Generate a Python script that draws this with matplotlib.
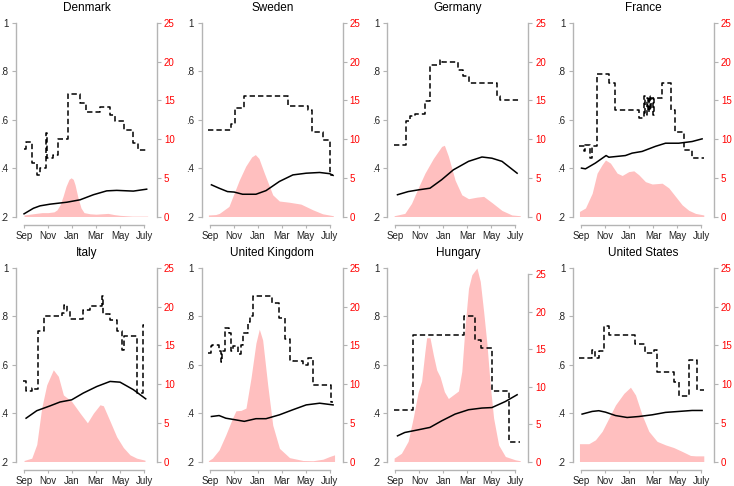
import matplotlib
matplotlib.use("Agg")
import matplotlib.pyplot as plt

# x positions are months since September 1 (Sep=0 ... July=10)
MONTH_TICKS = [0, 2, 4, 6, 8, 10]
MONTH_LABELS = ["Sep", "Nov", "Jan", "Mar", "May", "July"]
COUNTRIES = ["Denmark", "Sweden", "Germany", "France",
             "Italy", "United Kingdom", "Hungary", "United States"]

# dashed step series (left axis): breakpoints, value holds until next breakpoint
DK_STEP_X = [0, 0.17, 0.7, 1.05, 1.3, 1.8, 1.95, 2.45, 2.8, 3.7, 4.67, 5.2, 6.3, 7.2, 7.6, 8.3, 9.1, 9.5, 10.2]
DK_STEP_Y = [0.479, 0.51, 0.42, 0.372, 0.40, 0.545, 0.44, 0.455, 0.52, 0.706, 0.669, 0.63, 0.651, 0.62, 0.593, 0.559, 0.503, 0.473, 0.473]
SE_STEP_X = [-0.11, 1.76, 2.1, 2.88, 6.5, 8.2, 8.55, 9.4, 10.0, 10.28]
SE_STEP_Y = [0.556, 0.583, 0.648, 0.697, 0.658, 0.641, 0.548, 0.517, 0.372, 0.372]
DE_STEP_X = [-0.11, 0.92, 1.2, 1.62, 2.46, 2.88, 3.72, 3.85, 5.25, 5.6, 6.09, 8.46, 8.74, 10.42]
DE_STEP_Y = [0.497, 0.593, 0.614, 0.623, 0.676, 0.825, 0.848, 0.837, 0.807, 0.779, 0.754, 0.697, 0.68, 0.68]
FR_STEP_X = [-0.14, 0.22, 0.36, 0.78, 0.92, 1.33, 2.31, 2.8, 4.8, 5.22, 5.35, 5.45, 5.55, 5.65, 5.75, 5.85, 5.95, 6.05, 6.75, 7.53, 7.86, 8.56, 9.25, 10.22]
FR_STEP_Y = [0.49, 0.469, 0.497, 0.441, 0.49, 0.79, 0.752, 0.641, 0.607, 0.70, 0.62, 0.69, 0.63, 0.70, 0.64, 0.69, 0.62, 0.69, 0.752, 0.641, 0.548, 0.476, 0.441, 0.441]
IT_STEP_X = [-0.06, 0.17, 0.64, 0.78, 1.19, 1.67, 3.14, 3.36, 3.56, 3.83, 4.94, 5.5, 6.47, 6.61, 7.17, 7.72, 8.14, 8.33, 9.39, 9.44, 9.89, 10.0]
IT_STEP_Y = [0.531, 0.49, 0.503, 0.50, 0.741, 0.80, 0.814, 0.845, 0.821, 0.79, 0.825, 0.844, 0.883, 0.81, 0.786, 0.741, 0.662, 0.717, 0.697, 0.483, 0.766, 0.766]
UK_STEP_X = [-0.11, 0.08, 0.22, 0.78, 0.92, 1.06, 1.28, 1.62, 1.76, 1.9, 2.32, 2.6, 2.79, 3.16, 3.35, 3.63, 5.2, 5.81, 6.23, 6.65, 6.93, 7.77, 8.18, 8.6, 10.14, 10.28]
UK_STEP_Y = [0.648, 0.676, 0.68, 0.655, 0.611, 0.655, 0.752, 0.731, 0.655, 0.679, 0.644, 0.683, 0.731, 0.776, 0.8, 0.883, 0.855, 0.793, 0.706, 0.621, 0.614, 0.6, 0.628, 0.517, 0.448, 0.448]
HU_STEP_X = [-0.11, 1.48, 5.75, 6.65, 7.15, 8.04, 9.5, 10.42]
HU_STEP_Y = [0.411, 0.721, 0.80, 0.703, 0.669, 0.492, 0.28, 0.28]
US_STEP_X = [-0.14, 0.92, 1.19, 1.53, 1.89, 2.31, 4.53, 5.36, 6.06, 6.33, 7.72, 8.19, 8.97, 9.67, 10.22]
US_STEP_Y = [0.628, 0.662, 0.628, 0.655, 0.759, 0.724, 0.686, 0.648, 0.662, 0.572, 0.528, 0.469, 0.621, 0.497, 0.497]

# solid line series (left axis)
DK_LINE_X = [0, 0.78, 1.33, 2.17, 3.56, 4.67, 5.78, 6.89, 7.72, 9.11, 10.22]
DK_LINE_Y = [0.211, 0.234, 0.244, 0.251, 0.259, 0.269, 0.29, 0.306, 0.308, 0.305, 0.313]
SE_LINE_X = [0.14, 0.78, 1.48, 2.04, 2.74, 3.85, 4.69, 5.81, 6.93, 8.04, 9.16, 10.0, 10.28]
SE_LINE_Y = [0.331, 0.317, 0.303, 0.301, 0.292, 0.292, 0.307, 0.345, 0.372, 0.379, 0.382, 0.377, 0.37]
DE_LINE_X = [0.17, 1.06, 1.9, 2.88, 3.85, 4.83, 6.09, 7.21, 8.04, 8.88, 10.14]
DE_LINE_Y = [0.29, 0.303, 0.31, 0.317, 0.352, 0.393, 0.428, 0.446, 0.441, 0.428, 0.379]
FR_LINE_X = [0.03, 0.36, 1.19, 2.08, 2.31, 3.69, 4.25, 5.08, 6.19, 7.03, 8.14, 9.25, 10.08]
FR_LINE_Y = [0.40, 0.397, 0.421, 0.452, 0.445, 0.452, 0.462, 0.469, 0.49, 0.503, 0.503, 0.51, 0.521]
IT_LINE_X = [0.17, 1.06, 2.17, 3.0, 3.97, 4.94, 6.06, 7.17, 8.0, 9.11, 10.14]
IT_LINE_Y = [0.379, 0.41, 0.43, 0.446, 0.455, 0.483, 0.51, 0.531, 0.528, 0.497, 0.459]
UK_LINE_X = [0.14, 0.78, 1.34, 2.18, 2.88, 3.85, 4.69, 5.81, 6.93, 8.04, 9.16, 10.28]
UK_LINE_Y = [0.386, 0.39, 0.379, 0.372, 0.366, 0.377, 0.377, 0.393, 0.414, 0.434, 0.441, 0.434]
HU_LINE_X = [0.17, 0.78, 1.9, 2.88, 3.85, 4.97, 6.09, 7.21, 8.04, 9.16, 10.14]
HU_LINE_Y = [0.306, 0.32, 0.331, 0.341, 0.368, 0.396, 0.414, 0.421, 0.423, 0.448, 0.476]
US_LINE_X = [0.08, 0.92, 1.47, 2.03, 2.86, 3.83, 4.81, 5.92, 7.03, 8.14, 9.25, 10.08]
US_LINE_Y = [0.396, 0.407, 0.41, 0.404, 0.39, 0.382, 0.386, 0.393, 0.403, 0.407, 0.411, 0.411]

# shaded area series (right axis)
DK_AREA_X = [0, 0.5, 1, 1.5, 2, 2.5, 2.75, 3.0, 3.25, 3.5, 3.75, 3.92, 4.1, 4.25, 4.5, 4.75, 5.0, 5.5, 6, 6.5, 7, 7.5, 8, 9, 10.3]
DK_AREA_Y = [0.2, 0.3, 0.4, 0.5, 0.5, 0.6, 0.86, 1.5, 2.6, 3.9, 4.8, 5.0, 4.8, 4.1, 2.4, 1.1, 0.5, 0.35, 0.3, 0.35, 0.4, 0.25, 0.15, 0.05, 0.05]
SE_AREA_X = [-0.11, 0.5, 0.8, 1.6, 2.46, 3.0, 3.5, 3.8, 4.1, 4.55, 5.25, 5.8, 6.6, 7.6, 8.6, 9.4, 10.3]
SE_AREA_Y = [0.2, 0.25, 0.4, 1.3, 4.7, 6.5, 7.7, 8.0, 7.5, 5.6, 2.8, 2.0, 1.85, 1.6, 0.86, 0.35, 0.1]
DE_AREA_X = [-0.11, 0.78, 1.34, 1.9, 2.46, 3.16, 3.85, 4.08, 4.41, 4.97, 5.53, 6.09, 6.79, 7.35, 8.04, 8.88, 9.7, 10.4]
DE_AREA_Y = [0.1, 0.4, 1.7, 3.7, 5.6, 7.5, 9.05, 9.2, 7.8, 4.7, 2.8, 2.3, 2.5, 2.6, 1.8, 0.78, 0.2, 0.1]
FR_AREA_X = [-0.14, 0.36, 0.92, 1.33, 1.75, 2.03, 2.44, 3.0, 3.42, 3.97, 4.39, 4.8, 5.36, 5.92, 6.75, 7.3, 7.86, 8.42, 8.97, 9.53, 10.22]
FR_AREA_Y = [0.65, 1.1, 3.0, 5.6, 6.7, 7.3, 6.9, 5.6, 5.3, 5.8, 5.9, 5.4, 4.5, 4.2, 4.3, 3.7, 2.6, 1.5, 0.8, 0.4, 0.2]
IT_AREA_X = [0, 0.64, 1.06, 1.47, 1.89, 2.44, 2.86, 3.28, 3.97, 4.67, 5.28, 5.78, 6.33, 6.61, 7.17, 7.72, 8.28, 8.83, 9.39, 10.08]
IT_AREA_Y = [0.13, 0.43, 2.2, 6.9, 9.9, 11.85, 11.0, 8.6, 7.76, 6.25, 5.0, 6.25, 7.33, 7.2, 5.2, 3.2, 1.8, 0.86, 0.43, 0.17]
UK_AREA_X = [-0.11, 0.22, 0.78, 1.34, 1.9, 2.18, 2.6, 3.02, 3.44, 3.85, 4.13, 4.41, 4.83, 5.25, 5.81, 6.65, 7.77, 8.6, 9.44, 10.0, 10.4]
UK_AREA_Y = [0.1, 0.43, 1.5, 3.45, 5.6, 6.55, 6.6, 6.9, 10.8, 15.3, 17.1, 15.7, 9.9, 4.7, 1.7, 0.5, 0.13, 0.1, 0.3, 0.65, 0.86]
HU_AREA_X = [-0.11, 0.5, 1.06, 1.48, 1.9, 2.18, 2.46, 2.6, 2.88, 3.16, 3.44, 3.72, 4.08, 4.41, 4.83, 5.25, 5.53, 5.81, 6.09, 6.37, 6.79, 7.07, 7.35, 7.63, 7.9, 8.18, 8.6, 9.16, 10.0, 10.4]
HU_AREA_Y = [0.45, 1.1, 2.7, 5.8, 9.3, 10.7, 14.7, 16.5, 16.5, 14.2, 12.2, 11.3, 9.3, 8.4, 8.9, 9.4, 12.0, 18.2, 23.1, 24.9, 25.8, 24.0, 20.0, 15.6, 10.2, 5.8, 2.2, 0.67, 0.22, 0.1]
US_AREA_X = [-0.14, 0.64, 1.19, 1.75, 2.31, 2.86, 3.56, 4.11, 4.53, 5.08, 5.64, 6.33, 7.03, 7.72, 8.42, 9.11, 9.53, 10.22]
US_AREA_Y = [2.3, 2.3, 2.8, 3.9, 5.6, 7.3, 8.8, 9.6, 8.6, 6.0, 3.9, 2.6, 2.15, 1.8, 1.3, 0.78, 0.73, 0.73]

STEPS = [(DK_STEP_X, DK_STEP_Y), (SE_STEP_X, SE_STEP_Y), (DE_STEP_X, DE_STEP_Y), (FR_STEP_X, FR_STEP_Y),
         (IT_STEP_X, IT_STEP_Y), (UK_STEP_X, UK_STEP_Y), (HU_STEP_X, HU_STEP_Y), (US_STEP_X, US_STEP_Y)]
LINES = [(DK_LINE_X, DK_LINE_Y), (SE_LINE_X, SE_LINE_Y), (DE_LINE_X, DE_LINE_Y), (FR_LINE_X, FR_LINE_Y),
         (IT_LINE_X, IT_LINE_Y), (UK_LINE_X, UK_LINE_Y), (HU_LINE_X, HU_LINE_Y), (US_LINE_X, US_LINE_Y)]
AREAS = [(DK_AREA_X, DK_AREA_Y), (SE_AREA_X, SE_AREA_Y), (DE_AREA_X, DE_AREA_Y), (FR_AREA_X, FR_AREA_Y),
         (IT_AREA_X, IT_AREA_Y), (UK_AREA_X, UK_AREA_Y), (HU_AREA_X, HU_AREA_Y), (US_AREA_X, US_AREA_Y)]

PINK = "#ffbfbf"
GRAY = "#b4b4b4"
W, H = 734, 486

plt.rcParams.update({"font.family": ["Liberation Sans", "DejaVu Sans"], "font.size": 7})
fig = plt.figure(figsize=(W / 100, H / 100), dpi=100)

for i, name in enumerate(COUNTRIES):
    row, col = divmod(i, 4)
    left_px = 16 + 185.7 * col
    top_px = 23 + 245.0 * row
    ax = fig.add_axes([left_px / W, 1 - (top_px + 193.5) / H, 141 / W, 193.5 / H])
    axr = ax.twinx()
    ax.set_zorder(axr.get_zorder() + 1)
    ax.patch.set_visible(False)

    ax_x, ax_y = AREAS[i]
    axr.fill_between(ax_x, 0, ax_y, color=PINK, linewidth=0)
    sx, sy = STEPS[i]
    ax.step(sx, sy, where="post", color="black", linestyle=(0, (3.5, 2)), linewidth=1.1)
    lx, ly = LINES[i]
    ax.plot(lx, ly, color="black", linewidth=1.1)

    ax.set_xlim(-0.67, 11.08)
    ax.set_ylim(0.2, 1.0)
    axr.set_ylim(0, max(25, max(ax_y)))

    ax.set_xticks(MONTH_TICKS)
    ax.set_xticklabels(MONTH_LABELS)
    ax.set_yticks([0.2, 0.4, 0.6, 0.8, 1.0])
    ax.set_yticklabels([".2", ".4", ".6", ".8", "1"])
    axr.set_yticks([0, 5, 10, 15, 20, 25])

    for a in (ax, axr):
        a.spines["top"].set_visible(False)
        for s in ("left", "right", "bottom"):
            a.spines[s].set_color(GRAY)
            a.spines[s].set_linewidth(1.0)
    ax.spines["right"].set_visible(False)
    axr.spines["left"].set_visible(False)
    axr.spines["bottom"].set_visible(False)
    ax.spines["bottom"].set_position(("outward", 6))
    ax.spines["bottom"].set_bounds(0, 10)
    ax.spines["left"].set_bounds(0.2, 1.0)
    axr.spines["right"].set_bounds(0, 25)

    ax.tick_params(axis="x", colors=GRAY, labelcolor="#222222", length=2.2, labelsize=7, pad=2)
    ax.tick_params(axis="y", colors=GRAY, labelcolor="#222222", length=3, labelsize=7, pad=2.5)
    axr.tick_params(axis="y", colors=GRAY, labelcolor="#ff0000", length=3, labelsize=7, pad=2)
    ax.set_title(name, fontsize=8.5, pad=9)

fig.savefig("out.png", dpi=100, facecolor="white")
